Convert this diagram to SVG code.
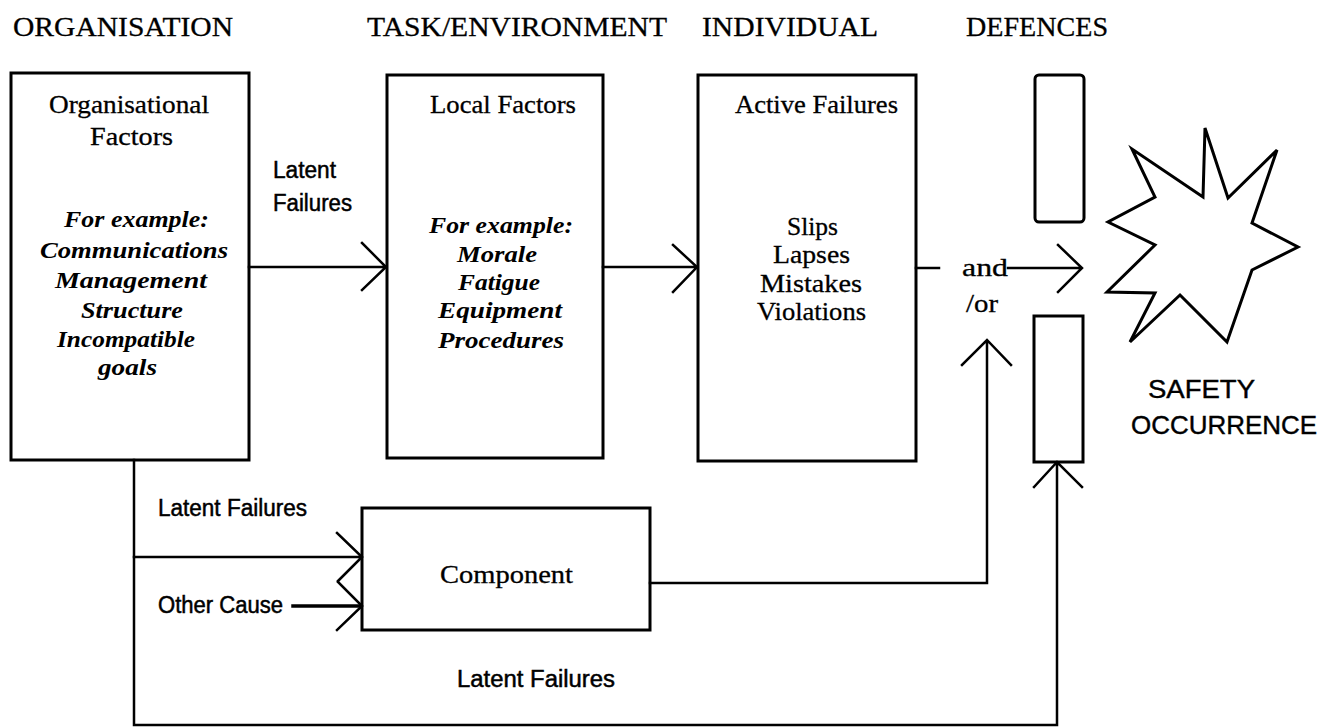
<svg xmlns="http://www.w3.org/2000/svg" width="1332" height="728" viewBox="0 0 1332 728">
<style>
.box{fill:none;stroke:#000;stroke-width:3}
.ln{fill:none;stroke:#000;stroke-width:2.5;stroke-linecap:square;stroke-linejoin:miter}
.hd{font-family:"Liberation Serif",serif;font-size:28px;fill:#000;stroke:#000;stroke-width:0.3}
.sr{font-family:"Liberation Serif",serif;font-size:25px;fill:#000;stroke:#000;stroke-width:0.3}
.it{font-family:"Liberation Serif",serif;font-size:23px;font-style:italic;font-weight:bold;fill:#000}
.sn{font-family:"Liberation Sans",Arial,sans-serif;font-size:23px;fill:#000;stroke:#000;stroke-width:0.5}
.big{font-family:"Liberation Sans",Arial,sans-serif;font-size:25px;fill:#000;stroke:#000;stroke-width:0.4}
</style>
<rect width="1332" height="728" fill="#fff"/>
<g id="headers">
<text class="hd" x="13" y="36" textLength="220" lengthAdjust="spacingAndGlyphs">ORGANISATION</text>
<text class="hd" x="367" y="36" textLength="300" lengthAdjust="spacingAndGlyphs">TASK/ENVIRONMENT</text>
<text class="hd" x="702" y="36" textLength="176" lengthAdjust="spacingAndGlyphs">INDIVIDUAL</text>
<text class="hd" x="966" y="36" textLength="142" lengthAdjust="spacingAndGlyphs">DEFENCES</text>
</g>
<g id="organisational">
<rect class="box" x="11" y="73" width="238" height="387"/>
<text class="sr" x="49" y="113" textLength="160" lengthAdjust="spacingAndGlyphs">Organisational</text>
<text class="sr" x="90" y="145" textLength="83" lengthAdjust="spacingAndGlyphs">Factors</text>
<text class="it" x="64" y="227" textLength="145" lengthAdjust="spacingAndGlyphs">For  example:</text>
<text class="it" x="40" y="258" textLength="188" lengthAdjust="spacingAndGlyphs">Communications</text>
<text class="it" x="55" y="288" textLength="152" lengthAdjust="spacingAndGlyphs">Management</text>
<text class="it" x="81" y="318" textLength="102" lengthAdjust="spacingAndGlyphs">Structure</text>
<text class="it" x="57" y="347" textLength="138" lengthAdjust="spacingAndGlyphs">Incompatible</text>
<text class="it" x="98" y="375" textLength="59" lengthAdjust="spacingAndGlyphs">goals</text>
</g>
<g id="local">
<rect class="box" x="387" y="75" width="216" height="383"/>
<text class="sr" x="430" y="113" textLength="146" lengthAdjust="spacingAndGlyphs">Local  Factors</text>
<text class="it" x="429" y="233" textLength="144" lengthAdjust="spacingAndGlyphs">For  example:</text>
<text class="it" x="457" y="262" textLength="80" lengthAdjust="spacingAndGlyphs">Morale</text>
<text class="it" x="458" y="290" textLength="82" lengthAdjust="spacingAndGlyphs">Fatigue</text>
<text class="it" x="438" y="318" textLength="124" lengthAdjust="spacingAndGlyphs">Equipment</text>
<text class="it" x="438" y="348" textLength="126" lengthAdjust="spacingAndGlyphs">Procedures</text>
</g>
<g id="active">
<rect class="box" x="698" y="75" width="218" height="386"/>
<text class="sr" x="735" y="113" textLength="163" lengthAdjust="spacingAndGlyphs">Active Failures</text>
<text class="sr" x="787" y="235" textLength="51" lengthAdjust="spacingAndGlyphs">Slips</text>
<text class="sr" x="773" y="263" textLength="77" lengthAdjust="spacingAndGlyphs">Lapses</text>
<text class="sr" x="760" y="292" textLength="102" lengthAdjust="spacingAndGlyphs">Mistakes</text>
<text class="sr" x="757" y="320" textLength="109" lengthAdjust="spacingAndGlyphs">Violations</text>
</g>
<g id="component">
<rect class="box" x="362" y="508" width="288" height="122"/>
<text class="sr" x="440" y="583" textLength="133" lengthAdjust="spacingAndGlyphs">Component</text>
</g>
<g id="defence-top">
<rect class="box" x="1035" y="75" width="49" height="147" rx="4"/>
</g>
<g id="defence-bottom">
<rect class="box" x="1034" y="316" width="49" height="146"/>
</g>
<g id="occurrence">
<polygon class="box" points="1205,128 1228,198 1277,150 1252,223 1298,247 1252,270 1227,342 1180,295 1130,342 1155,293 1107,292 1155,245 1108,222 1155,197 1132,149 1203,197"/>
<text class="big" x="1148" y="398" textLength="107" lengthAdjust="spacingAndGlyphs">SAFETY</text>
<text class="big" x="1131" y="434" textLength="186" lengthAdjust="spacingAndGlyphs">OCCURRENCE</text>
</g>
<g id="connectors">
<path class="ln" d="M249,267 H385 M362,243 L386,267 L362,290"/>
<path class="ln" d="M603,267 H697 M673,245 L697,267 L673,292"/>
<path class="ln" d="M916,268 H939"/>
<path class="ln" d="M1008,268 H1081 M1058,245 L1082,268 L1058,292"/>
<path class="ln" d="M650,583 H987 V341 M962,365 L987,340 L1011,365"/>
<path class="ln" d="M134,460 V725 H1057 V463 M1034,487 L1057,462 L1082,487"/>
<path class="ln" d="M134,557 H361 M337,533 L362,557 L338,581 M338,582 L362,606 L337,630"/>
<path class="ln" d="M293,606 H361" style="stroke-width:3.5"/>
<text class="sn" x="273" y="178" textLength="63" lengthAdjust="spacingAndGlyphs">Latent</text>
<text class="sn" x="273" y="211" textLength="79" lengthAdjust="spacingAndGlyphs">Failures</text>
<text class="sn" x="158" y="516" textLength="149" lengthAdjust="spacingAndGlyphs">Latent Failures</text>
<text class="sn" x="158" y="613" textLength="125" lengthAdjust="spacingAndGlyphs">Other Cause</text>
<text class="sn" x="457" y="687" textLength="158" lengthAdjust="spacingAndGlyphs">Latent Failures</text>
<text class="sr" x="962" y="276" textLength="46" lengthAdjust="spacingAndGlyphs">and</text>
<text class="sr" x="966" y="312" textLength="32" lengthAdjust="spacingAndGlyphs">/or</text>
</g>
</svg>
